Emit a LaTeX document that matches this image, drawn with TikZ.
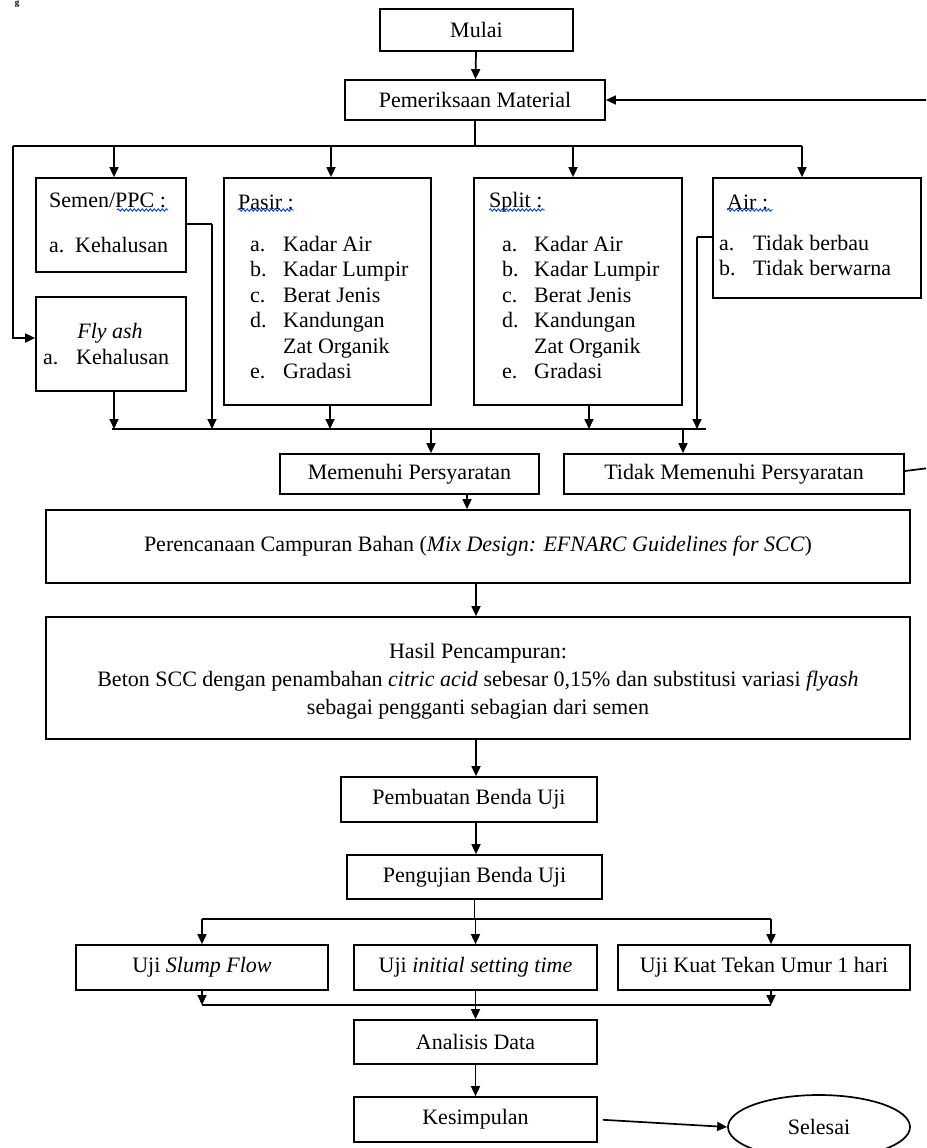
\documentclass[tikz,border=0pt]{standalone}
\usepackage{fontspec}
\setmainfont{Liberation Serif}
\usetikzlibrary{arrows.meta,shapes.geometric,decorations.pathmorphing}
\begin{document}
\begin{tikzpicture}[x=1pt,y=-1pt,
  every node/.style={font=\fontsize{22}{25.5}\selectfont, inner sep=0pt},
  box/.style={draw, line width=1.7pt},
  arr/.style={-{Triangle[length=10pt,width=9pt]}, line width=1.7pt},
  ln/.style={line width=1.7pt},
  squig/.style={draw=blue!75!cyan, line width=0.9pt, decorate, decoration={snake, segment length=4pt, amplitude=1.2pt}}]
\useasboundingbox (0,0) rectangle (926,1148);
\clip (0,0) rectangle (926,1148);

\node[anchor=north, font=\bfseries\fontsize{9}{10}\selectfont] (cap) at (17,0.5) {g};

% boxes
\node[box, minimum width=193pt, minimum height=42pt] (mulai) at (476.5,30) {Mulai};
\node[box, minimum width=260pt, minimum height=40pt] (periksa) at (475,100) {Pemeriksaan Material};
\node[box, minimum width=150pt, minimum height=94pt] (semen) at (111,225) {};
\node[box, minimum width=150pt, minimum height=94pt] (flyash) at (111,344) {};
\node[box, minimum width=207pt, minimum height=227pt] (pasir) at (327.5,291.5) {};
\node[box, minimum width=208pt, minimum height=227pt] (split) at (578,291.5) {};
\node[box, minimum width=208pt, minimum height=120pt] (air) at (817,238) {};

% box contents
\node[anchor=west] (semenT) at (49,200) {Semen/PPC :};
\node[anchor=west] (semenA) at (49,245) {\makebox[26pt][l]{a.}Kehalusan};
\node (flyT) at (110,333) {\itshape Fly ash};
\node[anchor=west] (flyA) at (43,357) {\makebox[33pt][l]{a.}Kehalusan};

\node[anchor=west] (pasirT) at (238,202) {Pasir :};
\node[anchor=north west] (pasirL) at (250,233) {\begin{tabular}{@{}p{33pt}@{}l@{}}a.&Kadar Air\\b.&Kadar Lumpir\\c.&Berat Jenis\\d.&Kandungan\\&Zat Organik\\e.&Gradasi\end{tabular}};

\node[anchor=west] (splitT) at (489,202) {Split :};
\node[anchor=north west] (splitL) at (502,233) {\begin{tabular}{@{}p{32pt}@{}l@{}}a.&Kadar Air\\b.&Kadar Lumpir\\c.&Berat Jenis\\d.&Kandungan\\&Zat Organik\\e.&Gradasi\end{tabular}};

\node[anchor=west] (airT) at (727,202) {Air :};
\node[anchor=north west] (airL) at (719,232) {\begin{tabular}{@{}p{34pt}@{}l@{}}a.&Tidak berbau\\b.&Tidak berwarna\end{tabular}};

% spell-check underlines
\draw[squig] (117,210) -- (168,210);
\draw[squig] (238,210) -- (294,210);
\draw[squig] (489,210) -- (545,210);
\draw[squig] (727,210) -- (773,210);

\node[box, minimum width=259pt, minimum height=40pt] (memenuhi) at (409.5,474) {Memenuhi Persyaratan};
\node[box, minimum width=340pt, minimum height=40pt] (tidak) at (734,474) {Tidak Memenuhi Persyaratan};
\node[box, minimum width=864pt, minimum height=73pt] (rencana) at (478,546.5) {Perencanaan Campuran Bahan (\textit{Mix Design: EFNARC Guidelines for SCC})};
\node[box, minimum width=864pt, minimum height=122pt] (hasil) at (478,678) {};
\node[align=center, font=\fontsize{22}{28}\selectfont] (hasilT) at (478,681) {Hasil Pencampuran:\\ Beton SCC dengan penambahan \textit{citric acid} sebesar 0,15\% dan substitusi variasi \textit{flyash}\\ sebagai pengganti sebagian dari semen};
\node[box, minimum width=256pt, minimum height=45pt] (buat) at (469,799.5) {Pembuatan Benda Uji};
\node[box, minimum width=255pt, minimum height=44pt] (uji) at (474.5,877) {Pengujian Benda Uji};
\node[box, minimum width=252pt, minimum height=45pt] (slump) at (202,967.5) {Uji \textit{Slump Flow}};
\node[box, minimum width=243pt, minimum height=45pt] (initial) at (475.5,967.5) {Uji \textit{initial setting time}};
\node[box, minimum width=292pt, minimum height=45pt] (kuat) at (764,967.5) {Uji Kuat Tekan Umur 1 hari};
\node[box, minimum width=243pt, minimum height=44pt] (analisis) at (475.5,1042) {Analisis Data};
\node[box, minimum width=243pt, minimum height=45pt] (kesimpulan) at (475.5,1119.5) {Kesimpulan};
\node[box, ellipse, minimum width=182pt, minimum height=64pt] (selesai) at (819,1127) {Selesai};

% connectors
\draw[arr] (mulai) -- (periksa);
\coordinate (busL) at (13,146);
\coordinate (busR) at (802,146);
\draw[ln] (periksa.south) -- (periksa.south |- busL);
\draw[ln] (busL) -- (busR);
\draw[arr] ([xshift=3pt]semen.north |- busL) -- ([xshift=3pt]semen.north);
\draw[arr] ([xshift=3.5pt]pasir.north |- busL) -- ([xshift=3.5pt]pasir.north);
\draw[arr] ([xshift=-5pt]split.north |- busL) -- ([xshift=-5pt]split.north);
\draw[arr] (busR) -- (busR |- air.north);
\coordinate (lf) at (13,338);
\draw[arr] (busL) |- (flyash.west |- lf);

\coordinate (bus2L) at (112,429);
\coordinate (bus2R) at (706,429);
\coordinate (sc) at (212,224);
\draw[ln] (semen.east |- sc) -- (sc);
\draw[arr] (sc) -- (sc |- bus2L);
\draw[arr] ([xshift=3pt]flyash.south) -- ([xshift=3pt]flyash.south |- bus2L);
\draw[arr] ([xshift=2.5pt]pasir.south) -- ([xshift=2.5pt]pasir.south |- bus2L);
\draw[arr] ([xshift=11pt]split.south) -- ([xshift=11pt]split.south |- bus2L);
\coordinate (ac) at (697,237);
\draw[ln] (air.west |- ac) -- (ac);
\draw[arr] (ac) -- (ac |- bus2L);
\draw[ln] (bus2L) -- (bus2R);
\draw[arr] ([xshift=21.5pt]memenuhi.north |- bus2L) -- ([xshift=21.5pt]memenuhi.north);
\draw[arr] ([xshift=-51pt]tidak.north |- bus2L) -- ([xshift=-51pt]tidak.north);

\draw[arr] ([xshift=57.5pt]memenuhi.south) -- ([xshift=57.5pt]memenuhi.south |- rencana.north);
\coordinate (fb) at (945,466);
\draw[arr] ([yshift=3pt]tidak.east) -- (fb) |- (periksa.east);

\draw[arr] ([xshift=-2pt]rencana.south) -- ([xshift=-2pt]rencana.south |- hasil.north);
\draw[arr] ([xshift=-2pt]hasil.south) -- ([xshift=-2pt]hasil.south |- buat.north);
\draw[arr] ([xshift=7pt]buat.south) -- ([xshift=7pt]buat.south |- uji.north);

\coordinate (b3L) at (202,919);
\coordinate (b3R) at (771,919);
\draw[ln] (uji.south) -- (uji.south |- b3L);
\draw[ln] (b3L) -- (b3R);
\draw[arr] (b3L) -- (b3L |- slump.north);
\draw[arr] (initial.north |- b3L) -- (initial.north);
\draw[arr] (b3R) -- (b3R |- kuat.north);

\coordinate (b4L) at (202,1005);
\coordinate (b4R) at (771,1005);
\draw[arr] (b4L |- slump.south) -- (b4L);
\draw[arr] (b4R |- kuat.south) -- (b4R);
\draw[ln] (b4L) -- (b4R);
\draw[arr] (initial.south) -- (analisis.north);
\draw[arr] (analisis) -- (kesimpulan);
\draw[arr, shorten <=5pt] (kesimpulan.east) -- (selesai.west);
\end{tikzpicture}
\end{document}
